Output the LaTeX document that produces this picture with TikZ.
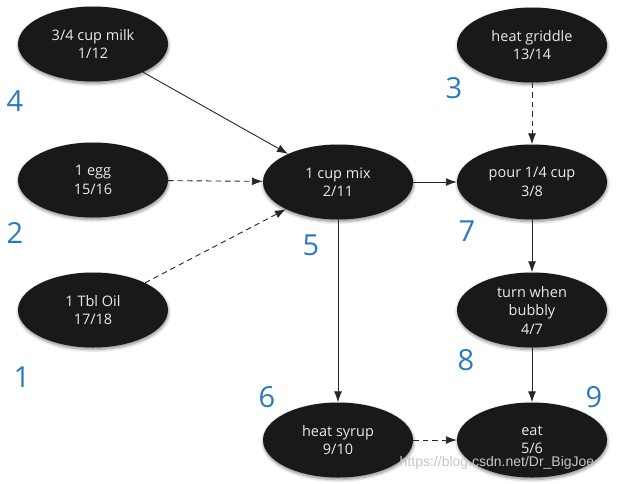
\documentclass[tikz,border=0pt]{standalone}
\usepackage{fontspec}
\setmainfont{Open Sans}
\newfontfamily\numfont{Open Sans}
\newfontfamily\wmfont{Liberation Sans}
\usetikzlibrary{arrows.meta,shapes.geometric,shadows.blur}
\definecolor{numblue}{RGB}{40,122,192}
\tikzset{
  task/.style={ellipse, fill=black!90, text=white!92!black, minimum width=150pt, minimum height=75pt,
    inner sep=0pt, align=center, font=\fontsize{14.5}{18.5}\selectfont,
    blur shadow={shadow xshift=0.5pt, shadow yshift=-2pt, shadow opacity=45, shadow blur steps=6, shadow blur radius=3pt}},
  num/.style={text=numblue, font=\numfont\fontsize{29}{30}\selectfont, inner sep=0pt},
  arr/.style={-{Latex[length=11pt,width=8pt]}, line width=0.9pt, black!85},
  darr/.style={arr, dash pattern=on 5.5pt off 4pt}
}
\begin{document}
\begin{tikzpicture}[x=1pt,y=-1pt]
\useasboundingbox (0,0) rectangle (617,483);
\node[task] (milk) at (93,44) {3/4 cup milk\\1/12};
\node[task] (egg) at (93,180) {1 egg\\15/16};
\node[task] (oil) at (93,310) {1 Tbl Oil\\17/18};
\node[task] (mix) at (338,182) {1 cup mix\\2/11};
\node[task] (griddle) at (532,45) {heat griddle\\13/14};
\node[task] (pour) at (532,182) {pour 1/4 cup\\3/8};
\node[task] (turn) at (532,310) {turn when\\bubbly\\4/7};
\node[task] (syrup) at (338,440) {heat syrup\\9/10};
\node[task] (eat) at (532,440) {eat\\5/6};

\draw[arr] (milk) -- (mix);
\draw[darr] (egg) -- (mix);
\draw[darr] (oil) -- (mix);
\draw[arr] (mix) -- (pour);
\draw[darr] (griddle) -- (pour);
\draw[arr] (mix) -- (syrup);
\draw[arr] (pour) -- (turn);
\draw[arr] (turn) -- (eat);
\draw[darr] (syrup) -- (eat);

\node[num] (n4) at (15,101) {4};
\node[num] (n2) at (15,233) {2};
\node[num] (n1) at (22,377) {1};
\node[num] (n5) at (311,245) {5};
\node[num] (n3) at (454,88) {3};
\node[num] (n7) at (467,231) {7};
\node[num] (n8) at (466,360) {8};
\node[num] (n6) at (267,397) {6};
\node[num] (n9) at (594,397) {9};

\node[text=gray!45, font=\wmfont\fontsize{14}{14}\selectfont, inner sep=0pt] (wm) at (497,463) {https://blog.csdn.net/Dr\_BigJoe};
\end{tikzpicture}
\end{document}
